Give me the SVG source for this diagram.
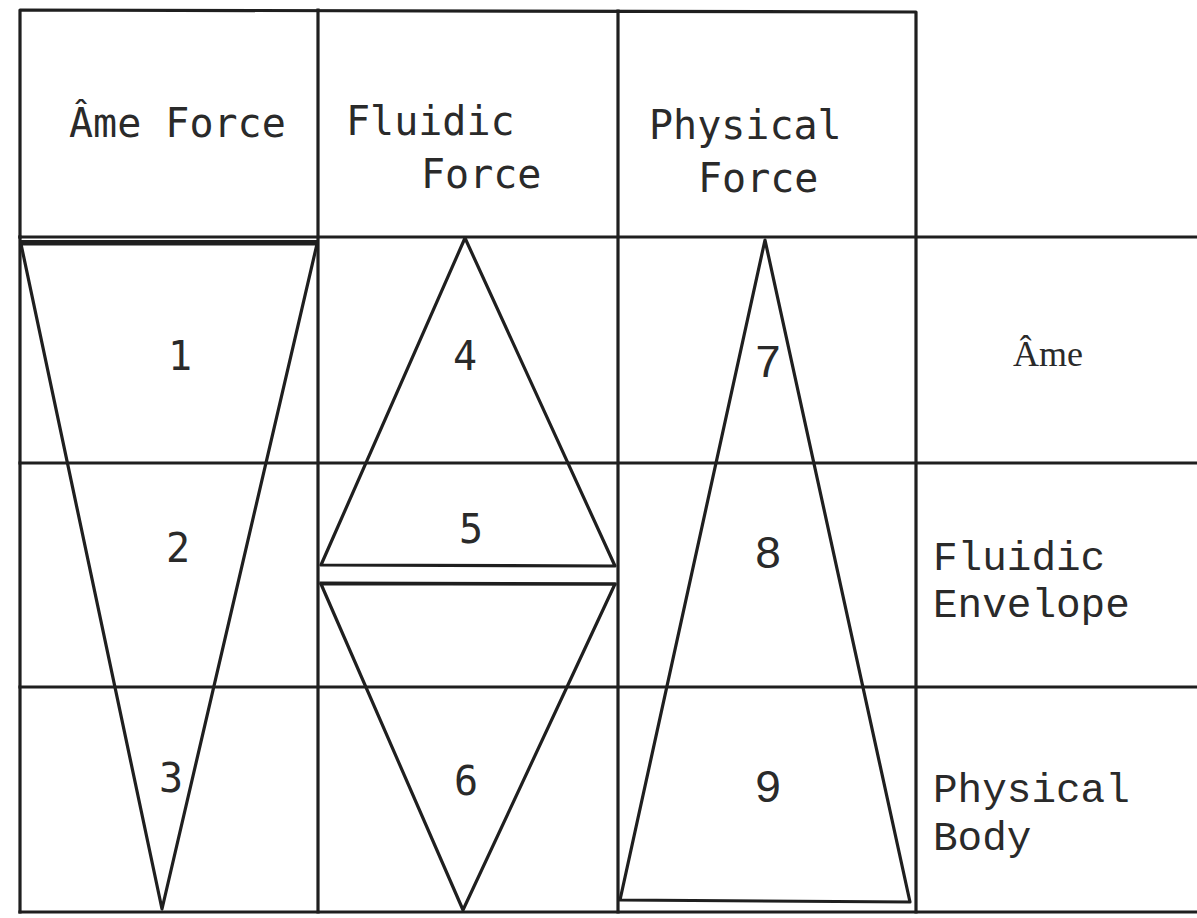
<svg xmlns="http://www.w3.org/2000/svg" width="1197" height="918" viewBox="0 0 1197 918">
  <style>
    .ln { stroke: #1f1f1f; stroke-width: 3.2; fill: none; stroke-linejoin: round; stroke-linecap: square; }
    .thick { stroke-width: 4; }
    .hd { font-family: "DejaVu Sans Mono", "Liberation Mono", monospace; font-size: 40px; fill: #2a2a2a; }
    .num { font-family: "DejaVu Sans Mono", "Liberation Mono", monospace; font-size: 40px; fill: #2a2a2a; text-anchor: middle; }
    .tw { font-family: "Liberation Mono", "Courier New", monospace; font-size: 41px; fill: #2a2a2a; }
    .twn { font-family: "Liberation Mono", "Courier New", monospace; font-size: 46px; fill: #2a2a2a; text-anchor: middle; }
    .sf { font-family: "Liberation Serif", "Times New Roman", serif; font-size: 36px; fill: #2a2a2a; text-anchor: middle; }
  </style>
  <rect width="1197" height="918" fill="#ffffff"/>

  <g id="grid">
    <polyline class="ln" points="20,237 20,10 916,12 916,912"/>
    <line class="ln" x1="318" y1="10" x2="318" y2="912"/>
    <line class="ln" x1="618" y1="11" x2="618" y2="912"/>
    <line class="ln" x1="20" y1="237" x2="20" y2="912"/>
    <line class="ln" x1="20" y1="237" x2="1197" y2="237"/>
    <line class="ln" x1="20" y1="463" x2="1197" y2="463"/>
    <line class="ln" x1="20" y1="687" x2="1197" y2="687"/>
    <line class="ln" x1="20" y1="912" x2="1197" y2="912"/>
  </g>

  <g id="headers">
    <text class="hd" x="69" y="137">Âme Force</text>
    <text class="hd" x="346" y="135">Fluidic</text>
    <text class="hd" x="421" y="188">Force</text>
    <text class="hd" x="649" y="139">Physical</text>
    <text class="hd" x="698" y="192">Force</text>
  </g>

  <g id="ame-column">
    <polygon class="ln" points="21,244 317,244 162,909"/>
    <line class="ln thick" x1="21" y1="242" x2="317" y2="242"/>
    <text class="num" x="180" y="370">1</text>
    <text class="num" x="178" y="562">2</text>
    <text class="num" x="171" y="792">3</text>
  </g>

  <g id="fluidic-column">
    <polygon class="ln" points="465,238 321,565 615,566"/>
    <line class="ln" x1="321" y1="583" x2="615" y2="584"/>
    <polygon class="ln" points="321,584 615,584 463,910"/>
    <text class="num" x="465" y="370">4</text>
    <text class="num" x="471" y="543">5</text>
    <text class="num" x="466" y="795">6</text>
  </g>

  <g id="physical-column">
    <polygon class="ln" points="765,240 620,900 910,902"/>
    <text class="twn" x="768" y="377">7</text>
    <text class="twn" x="768" y="568">8</text>
    <text class="twn" x="768" y="802">9</text>
  </g>

  <g id="row-labels">
    <text class="sf" x="1048" y="366">Âme</text>
    <text class="tw" x="933" y="570">Fluidic</text>
    <text class="tw" x="933" y="617">Envelope</text>
    <text class="tw" x="933" y="802">Physical</text>
    <text class="tw" x="933" y="850">Body</text>
  </g>
</svg>
